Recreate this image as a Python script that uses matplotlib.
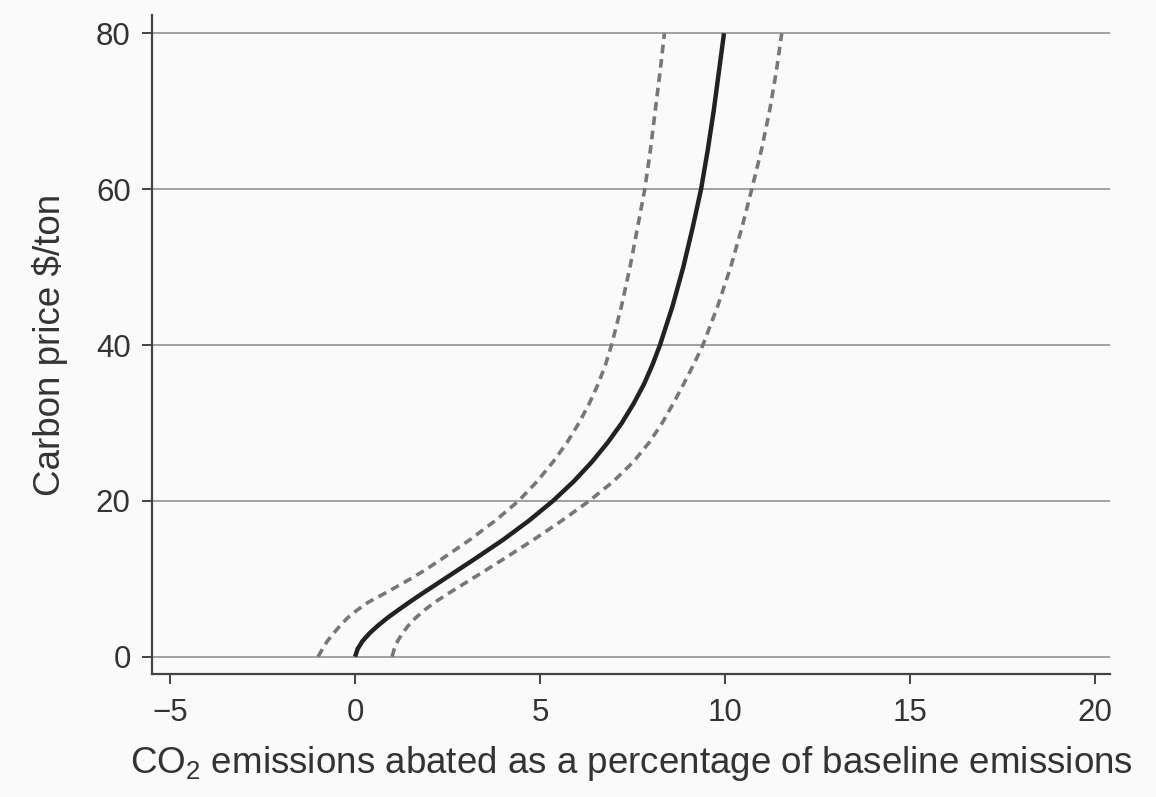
import matplotlib
matplotlib.use("Agg")
import matplotlib.pyplot as plt

plt.rcParams['font.family'] = ['Liberation Sans', 'DejaVu Sans']
plt.rcParams['mathtext.fontset'] = 'custom'
plt.rcParams['mathtext.rm'] = 'Liberation Sans'
plt.rcParams['mathtext.it'] = 'Liberation Sans'

# carbon price levels ($/ton) and abatement (% of baseline)
price = [0, 1, 2, 3, 4, 5, 6, 7, 8, 9, 10, 11, 12.5, 15, 17.5, 20, 22.5, 25,
         27.5, 30, 32.5, 35, 37.5, 40, 45, 50, 55, 60, 65, 70, 75, 80]
abated = [0, 0.07, 0.2, 0.39, 0.62, 0.88, 1.17, 1.47, 1.78, 2.1, 2.42, 2.74, 3.22,
          4.0, 4.71, 5.35, 5.91, 6.4, 6.83, 7.21, 7.53, 7.81, 8.04, 8.24,
          8.58, 8.87, 9.12, 9.35, 9.53, 9.69, 9.83, 9.97]
lower = [-1.0, -0.88, -0.75, -0.58, -0.4, -0.2, 0.06, 0.36, 0.75, 1.13, 1.5, 1.85, 2.33,
         3.1, 3.8, 4.42, 4.92, 5.35, 5.73, 6.05, 6.33, 6.57, 6.77, 6.93,
         7.2, 7.43, 7.63, 7.83, 7.98, 8.11, 8.24, 8.36]
upper = [1.0, 1.06, 1.15, 1.28, 1.44, 1.64, 1.88, 2.16, 2.48, 2.82, 3.16, 3.5, 4.0,
         4.82, 5.6, 6.33, 6.98, 7.52, 7.95, 8.3, 8.6, 8.88, 9.15, 9.4,
         9.8, 10.15, 10.45, 10.72, 10.98, 11.2, 11.38, 11.53]

xticks = [-5, 0, 5, 10, 15, 20]
yticks = [0, 20, 40, 60, 80]

bg = '#fafafa'
txt = '#333333'

fig = plt.figure(figsize=(11.56, 7.97), dpi=100, facecolor=bg)
ax = fig.add_axes([0.1317, 0.1543, 0.9602 - 0.1317, 0.9812 - 0.1543])
ax.set_facecolor(bg)

for y in yticks:
    ax.axhline(y, color='#9a9a9a', lw=1.3, zorder=1)

ax.plot(lower, price, color='#777777', lw=2.6, dashes=(2.4, 1.6), zorder=2)
ax.plot(upper, price, color='#777777', lw=2.6, dashes=(2.4, 1.6), zorder=2)
ax.plot(abated, price, color='#222222', lw=3.2, zorder=3,
        solid_capstyle='butt', solid_joinstyle='round')

ax.set_xlim(-5.48, 20.4)
ax.set_ylim(-2.22, 82.35)
ax.set_xticks(xticks)
ax.set_xticklabels(['\u22125', '0', '5', '10', '15', '20'])
ax.set_yticks(yticks)

for s in ['top', 'right']:
    ax.spines[s].set_visible(False)
for s in ['left', 'bottom']:
    ax.spines[s].set_color('#444444')
    ax.spines[s].set_linewidth(1.6)

ax.tick_params(axis='both', direction='out', length=7.5, width=1.4,
               color='#444444', labelsize=22.5, labelcolor=txt)
ax.tick_params(axis='y', pad=8)
ax.tick_params(axis='x', pad=10)

ax.set_xlabel('CO$_2$ emissions abated as a percentage of baseline emissions',
              fontsize=26.5, color=txt, labelpad=11)
ax.set_ylabel('Carbon price $/ton', fontsize=26.5, color=txt, labelpad=20)

fig.savefig('out.png', dpi=100, facecolor=bg)
